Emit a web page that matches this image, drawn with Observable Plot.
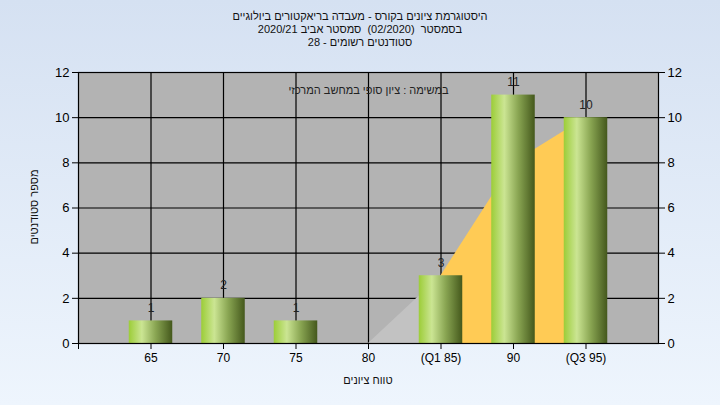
<!DOCTYPE html>
<html><head><meta charset="utf-8">
<script src="https://cdn.jsdelivr.net/npm/d3@7"></script>
<script src="https://cdn.jsdelivr.net/npm/@observablehq/plot@0.6"></script>
<style>
html,body{margin:0;padding:0;}
body{width:720px;height:405px;overflow:hidden;background:linear-gradient(#d5e1f2,#eef5fd);font-family:"Liberation Sans",Arial,sans-serif;position:relative;}
#title{position:absolute;left:0;top:10px;width:720px;text-align:center;font-size:11px;line-height:13px;color:#111;direction:rtl;}
#chart{position:absolute;left:0;top:0;}
#xlab{position:absolute;left:0;width:736px;top:374px;text-align:center;font-size:11px;color:#111;direction:rtl;}
#ylab{position:absolute;left:34px;top:207px;transform:translate(-50%,-50%) rotate(-90deg);font-size:11px;color:#111;white-space:nowrap;direction:rtl;}
</style></head>
<body>
<div id="chart"></div>
<div id="title"></div>
<div id="xlab"></div>
<div id="ylab"></div>
<script>
const titleLines = ["היסטוגרמת ציונים בקורס - מעבדה בריאקטורים ביולוגיים", "בסמסטר  (02/2020)  סמסטר אביב 2020/21", "סטודנטים רשומים - 28"];
const note = "במשימה : ציון סופי במחשב המרכזי";
const xLabel = "טווח ציונים";
const yLabel = "מספר סטודנטים";
const categories = ["65", "70", "75", "80", "(Q1 85)", "90", "(Q3 95)"];
const counts = [1, 2, 1, 0, 3, 11, 10];
const areaCats = ["80", "(Q1 85)", "90", "(Q3 95)"];
const areaValues = [0, 3, 8, 10];
const yTicks = [0, 2, 4, 6, 8, 10, 12];

document.getElementById("title").innerHTML = titleLines.map(t => `<div style="white-space:pre">${t}</div>`).join("");
document.getElementById("xlab").textContent = xLabel;
document.getElementById("ylab").textContent = yLabel;

const bars = categories.map((c, k) => ({c, i: k + 1, v: counts[k]}));
const area = areaCats.map((c, k) => ({i: categories.indexOf(c) + 1, v: areaValues[k]}));
const q1 = categories.indexOf("(Q1 85)") + 1;
const grayArea = area.filter(d => d.i <= q1);
const yellowArea = area.filter(d => d.i >= q1);
const xTicks = d3.range(0, categories.length + 1);
const half = 0.3;

const plot = Plot.plot({
  width: 720, height: 405,
  marginTop: 72, marginBottom: 62, marginLeft: 78, marginRight: 62,
  style: {background: "transparent", fontFamily: "'Liberation Sans', Arial, sans-serif", fontSize: "12px", color: "#000"},
  x: {type: "linear", domain: [0, categories.length + 1], axis: null},
  y: {domain: [0, 12], axis: null},
  marks: [
    Plot.frame({fill: "#b3b3b3"}),
    Plot.gridY(yTicks, {stroke: "#000", strokeOpacity: 1, strokeWidth: 1.2}),
    Plot.gridX(d3.range(1, categories.length + 1), {stroke: "#000", strokeOpacity: 1, strokeWidth: 1.2}),
    Plot.areaY(grayArea, {x: "i", y: "v", fill: "#c2c2c2"}),
    Plot.areaY(yellowArea, {x: "i", y: "v", fill: "#ffcb55"}),
    Plot.rectY(bars.filter(d => d.v > 0), {x1: d => d.i - half, x2: d => d.i + half, y: "v", fill: "url(#barGrad)", ariaLabel: "bars"}),
    Plot.text(bars.filter(d => d.v > 0), {x: "i", y: "v", text: d => String(d.v), dy: -13, fill: "#222", fontSize: 12}),
    Plot.frame({stroke: "#000", strokeWidth: 1.2}),
    Plot.axisY(yTicks, {anchor: "left", tickSize: 6, label: null, tickPadding: 3, fontSize: 13}),
    Plot.axisY(yTicks, {anchor: "right", tickSize: 6, label: null, tickPadding: 3, fontSize: 13}),
    Plot.axisX(xTicks, {anchor: "bottom", tickSize: 6, tickFormat: i => i >= 1 && i <= categories.length ? categories[i - 1] : "", label: null, tickPadding: 4, fontSize: 12}),
    Plot.text([note], {frameAnchor: "top", dy: 14, text: d => d, fill: "#222", fontSize: 11})
  ]
});

const ns = "http://www.w3.org/2000/svg";
const defs = document.createElementNS(ns, "defs");
defs.innerHTML = `<linearGradient id="barGrad" x1="0" x2="1" y1="0" y2="0">
<stop offset="0" stop-color="#9ccd38"/><stop offset="0.3" stop-color="#cbe593"/>
<stop offset="0.62" stop-color="#89a552"/><stop offset="1" stop-color="#44581c"/></linearGradient>
<filter id="shadow" x="-20%" y="-20%" width="150%" height="150%"><feDropShadow dx="5" dy="4" stdDeviation="2" flood-color="#000" flood-opacity="0.55"/></filter>`;
plot.insertBefore(defs, plot.firstChild);
plot.querySelectorAll('g[aria-label="bars"] rect').forEach(r => r.setAttribute("filter", "url(#shadow)"));
document.getElementById("chart").appendChild(plot);
</script>
</body></html>
